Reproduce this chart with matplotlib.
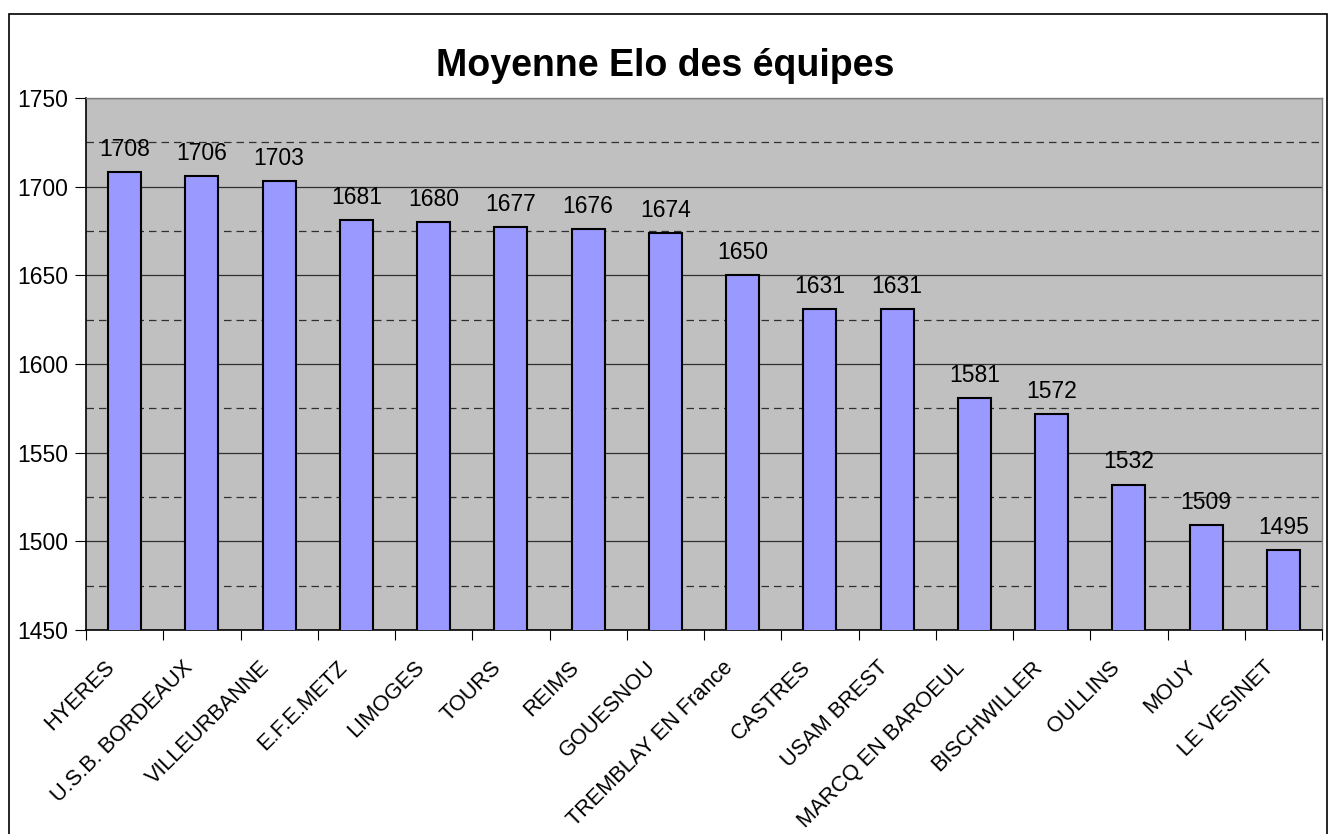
import numpy as np
import matplotlib.pyplot as plt
import matplotlib.transforms as mtransforms
from matplotlib.patches import Rectangle
from matplotlib.ticker import MultipleLocator

plt.rcParams['font.family'] = ['Liberation Sans', 'DejaVu Sans']

equipes = ['HYERES', 'U.S.B. BORDEAUX', 'VILLEURBANNE', 'E.F.E.METZ', 'LIMOGES',
           'TOURS', 'REIMS', 'GOUESNOU', 'TREMBLAY EN France', 'CASTRES',
           'USAM BREST', 'MARCQ EN BAROEUL', 'BISCHWILLER', 'OULLINS', 'MOUY',
           'LE VESINET']
elo = [1708, 1706, 1703, 1681, 1680, 1677, 1676, 1674, 1650, 1631, 1631,
       1581, 1572, 1532, 1509, 1495]

W, H = 1328, 834
fig = plt.figure(figsize=(W / 100, H / 100), dpi=100)
ax = fig.add_axes([86 / W, 1 - 630 / H, (1322 - 86) / W, (630 - 98) / H])

# outer chart border
fig.patches.append(Rectangle((9 / W, -0.05), (1327 - 9) / W, 1 - 14 / H + 0.05,
                             transform=fig.transFigure, fill=False,
                             edgecolor='black', linewidth=1.2))

x = np.arange(len(equipes))
ax.set_facecolor('#C0C0C0')
ax.bar(x, elo, width=0.43, color='#9999FF', edgecolor='black', linewidth=1.5,
       zorder=3)

ax.set_ylim(1450, 1750)
ax.set_xlim(-0.5, len(equipes) - 0.5)
ax.yaxis.set_major_locator(MultipleLocator(50))
ax.yaxis.set_minor_locator(MultipleLocator(25))
ax.grid(axis='y', which='major', color='#303030', linewidth=0.9, zorder=1)
ax.grid(axis='y', which='minor', color='#303030', linewidth=0.9,
        linestyle=(0, (6, 4)), zorder=1)
ax.tick_params(axis='y', which='minor', length=0)
ax.tick_params(axis='y', which='major', length=8, labelsize=16.5, pad=5)

ax.set_xticks(np.arange(-0.5, len(equipes), 1), minor=False)
ax.set_xticklabels([])
ax.set_xticks(x, minor=True)
ax.set_xticklabels(equipes, minor=True, rotation=45, ha='right',
                   rotation_mode='anchor', fontsize=15.7)
ax.tick_params(axis='x', which='major', length=7)
ax.tick_params(axis='x', which='minor', length=0, pad=10)
shift = mtransforms.ScaledTranslation(-20 / 100, -13 / 100, fig.dpi_scale_trans)
for lab in ax.get_xticklabels(minor=True):
    lab.set_transform(lab.get_transform() + shift)

for s in ['left', 'bottom']:
    ax.spines[s].set_color('black')
    ax.spines[s].set_linewidth(1.2)
for s in ['top', 'right']:
    ax.spines[s].set_color('#808080')
    ax.spines[s].set_linewidth(1.0)

for xi, v in zip(x, elo):
    ax.annotate(str(v), (xi, v), xytext=(0, 8), textcoords='offset points',
                ha='center', va='bottom', fontsize=16.5, zorder=4)

fig.text(665 / W, 1 - 66 / H, 'Moyenne Elo des équipes', ha='center',
         va='center', fontsize=27, fontweight='bold')

fig.savefig('out.png', dpi=100)
